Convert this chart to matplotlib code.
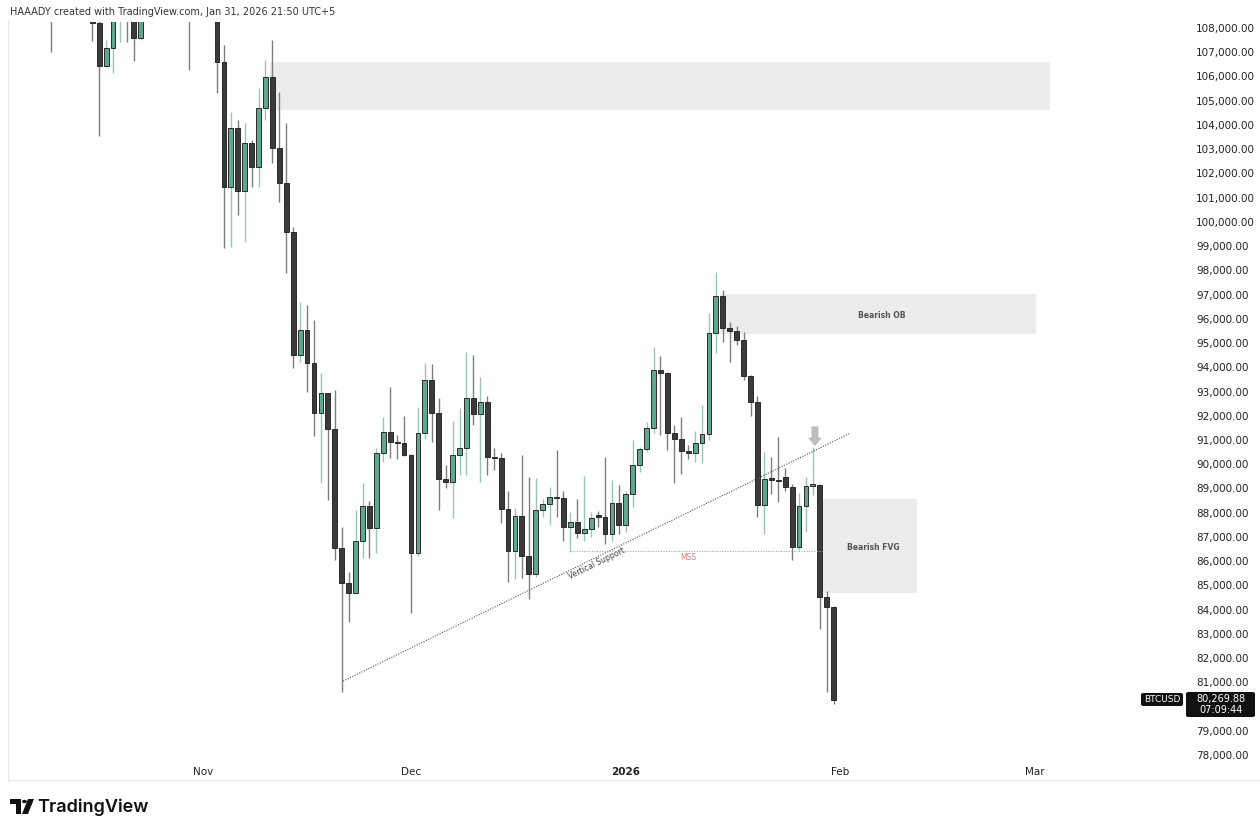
import numpy as np
import pandas as pd
import matplotlib
matplotlib.use('Agg')
import matplotlib.pyplot as plt
import matplotlib.dates as mdates
from matplotlib.patches import Rectangle, FancyBboxPatch, Polygon, Circle

# ДАННЫЕ (дневные свечи BTCUSD)
dates = ['2025-10-10'] + list(pd.date_range('2025-10-16', '2026-01-31').strftime('%Y-%m-%d'))
opens = [112500,
         111100, 108200, 106430, 107190, 108600, 110500, 108400, 107575, 110100, 111000,
         111600, 114500, 114100, 112900, 110000, 108300, 109600, 110100,
         110500, 106580, 101450, 103890, 101290, 103270, 102280, 104690, 105990, 103030,
         101620, 99590, 94500, 95540, 94190, 92120, 92920, 91470, 86530, 85080,
         84700, 86830, 88280, 87350, 90480, 91330, 90930, 90870,
         90380, 86330, 91300, 93470, 92100, 89380, 89280, 90400, 90680, 92720,
         92070, 92550, 90310, 90260, 88170, 86430, 87860, 86210, 85450, 88110,
         88350, 88660, 88590, 87420, 87600, 87180, 87310, 87900, 87830, 87120, 88410,
         87510, 88760, 89960, 90610, 91500, 93890, 93750, 91270, 91030, 90560,
         90450, 90890, 91230, 95400, 96940, 95610, 95500, 95120, 93640, 92580,
         88310, 89440, 89350, 89490, 89070, 86600, 88270, 89100, 89140, 84530, 84120]
highs = [113500,
         111700, 109000, 107500, 109400, 111700, 114000, 109100, 111300, 111900, 111800,
         115400, 116400, 116100, 113600, 111600, 111200, 110600, 111200,
         110800, 107300, 104540, 104200, 104070, 103380, 105510, 106680, 107500, 105370,
         104070, 99800, 96700, 96570, 95950, 93750, 92950, 93060, 87390, 85570,
         88110, 89240, 88500, 90670, 91950, 93190, 91200, 91990,
         90420, 92370, 94190, 94140, 92720, 89960, 91780, 92300, 94640, 94500,
         93610, 92810, 90650, 90470, 88900, 88200, 90380, 89490, 89420, 88550,
         89070, 90590, 88900, 88040, 88550, 89510, 88040, 88050, 90310, 89350, 89140,
         88900, 91000, 90700, 91750, 94840, 94460, 93800, 91620, 91930, 90780,
         91390, 92440, 96250, 97940, 97190, 95880, 95700, 95470, 93700, 92800,
         90520, 90310, 91130, 89860, 89200, 88800, 89490, 90710, 89200, 84750, 84150]
lows = [107000,
        107480, 103540, 106400, 106140, 107430, 107430, 106640, 107500, 109700, 110600,
        111300, 113900, 112200, 109800, 106270, 108600, 109400, 109500,
        105300, 98920, 98970, 100280, 99180, 101450, 101450, 104200, 102420, 100830,
        97870, 93950, 94230, 92990, 91160, 89210, 88520, 86040, 80610, 83500,
        84650, 86120, 86110, 86320, 90100, 90240, 90200, 90330,
        83840, 86200, 91060, 90930, 88110, 89000, 87760, 89550, 89550, 91620,
        89280, 89550, 89780, 87580, 85150, 85250, 85290, 84420, 85340, 87830,
        87480, 87830, 86820, 86390, 86940, 86850, 87000, 87400, 86700, 86840, 87120,
        87200, 88250, 89690, 90500, 91300, 91200, 90590, 89210, 89590, 90230,
        90100, 90030, 91000, 94570, 95050, 94230, 94900, 93470, 91990, 87830,
        87140, 88790, 88450, 88900, 86040, 86460, 87210, 88730, 83220, 80610, 80100]
closes = [112000,
          108200, 106430, 107190, 108600, 110500, 108400, 107575, 110100, 111000, 111600,
          114500, 114100, 112900, 110000, 108300, 109600, 110100, 110500,
          106580, 101450, 103890, 101290, 103270, 102280, 104690, 105990, 103030, 101620,
          99590, 94500, 95540, 94190, 92120, 92920, 91470, 86530, 85080, 84700,
          86830, 88280, 87350, 90480, 91330, 90930, 90870, 90380,
          86330, 91300, 93470, 92100, 89380, 89280, 90400, 90680, 92720, 92070,
          92550, 90310, 90260, 88170, 86430, 87860, 86210, 85450, 88110, 88350,
          88660, 88590, 87420, 87600, 87180, 87310, 87800, 87830, 87120, 88410, 87510,
          88760, 89960, 90610, 91500, 93890, 93750, 91270, 91030, 90560, 90450,
          90890, 91230, 95400, 96940, 95610, 95500, 95120, 93640, 92580, 88310,
          89380, 89350, 89300, 89070, 86600, 88270, 89100, 89180, 84530, 84120, 80270]

price_ticks = list(range(78000, 108001, 1000))
hidden_tick = 80000          # закрыт плашкой текущей цены
month_ticks = ['2025-11-01', '2025-12-01', '2026-01-01', '2026-02-01', '2026-03-01']
month_labels = ['Nov', 'Dec', '2026', 'Feb', 'Mar']
last_price = 80269.88
countdown = '07:09:44'

# зоны и разметка (дата начала, дата конца, низ, верх)
zone_top = ('2025-11-10 16:00', '2026-03-03 05:00', 104616, 106597)
zone_ob = ('2026-01-14 14:00', '2026-03-01 05:00', 95370, 97020)
zone_fvg = ('2026-01-29 07:00', '2026-02-12 00:00', 84680, 88560)
trend = (('2025-11-21 05:00', 81050), ('2026-02-02 10:00', 91285))
mss = (('2025-12-24 03:00', '2026-01-29 07:00'), 86415)

W, H = 1260, 832
fig = plt.figure(figsize=(W / 100, H / 100), dpi=100, facecolor='white')
ax = fig.add_axes([10 / W, (H - 760) / H, 1175 / W, 738 / H])

x = mdates.date2num(pd.to_datetime(dates))
o = np.array(opens, float)
c = np.array(closes, float)
hi = np.array(highs, float)
lo = np.array(lows, float)
up = c >= o

GREEN = '#5ea892'
DARK = '#3b3b3b'
EDGE = '#2a2a2a'

# свечи: фитили и тела
ax.vlines(x[up], lo[up], hi[up], color='#9cc4b4', linewidth=1.0, zorder=2)
ax.vlines(x[~up], lo[~up], hi[~up], color='#7d7d7d', linewidth=1.0, zorder=2)
body_h = np.maximum(np.abs(c - o), 45)
body_b = np.minimum(o, c)
ax.bar(x[up], body_h[up], bottom=body_b[up], width=0.7, color=GREEN,
       edgecolor=EDGE, linewidth=0.7, zorder=3)
ax.bar(x[~up], body_h[~up], bottom=body_b[~up], width=0.7, color=DARK,
       edgecolor=EDGE, linewidth=0.7, zorder=3)


def dn(s):
    return mdates.date2num(pd.Timestamp(s))


# серые зоны
for z in (zone_top, zone_ob, zone_fvg):
    ax.add_patch(Rectangle((dn(z[0]), z[2]), dn(z[1]) - dn(z[0]), z[3] - z[2],
                           facecolor='#ececec', edgecolor='none', zorder=1))
ax.text(dn('2026-02-07'), 96150, 'Bearish OB', fontsize=5.5, fontweight='bold',
        color='#555555', ha='center', va='center', zorder=4)
ax.text(dn('2026-02-05 16:00'), 86580, 'Bearish FVG', fontsize=5.5, fontweight='bold',
        color='#555555', ha='center', va='center', zorder=4)

# трендовая линия
ax.plot([dn(trend[0][0]), dn(trend[1][0])], [trend[0][1], trend[1][1]],
        color='#555555', linewidth=0.8, linestyle=(0, (1, 1.3)), zorder=4)
ax.text(dn('2025-12-27 20:00'), 85900, 'Vertical Support', fontsize=5.5,
        color='#444444', rotation=26, ha='center', va='center',
        rotation_mode='anchor', zorder=4)

# MSS
ax.plot([dn(mss[0][0]), dn(mss[0][1])], [mss[1], mss[1]],
        color='#b8a0a0', linewidth=0.8, linestyle=(0, (1, 1.3)), zorder=4)
ax.text(dn('2026-01-10'), 86130, 'MSS', fontsize=5.5, color='#e07b7b',
        ha='center', va='center', zorder=4)

# стрелка
ax.annotate('', xy=(dn('2026-01-28 07:00'), 90750), xytext=(dn('2026-01-28 07:00'), 91560),
            arrowprops=dict(arrowstyle='simple,head_length=0.6,head_width=1.0,tail_width=0.5',
                            fc='#bdbdbd', ec='none', shrinkA=0, shrinkB=0),
            annotation_clip=False, zorder=5)

ax.set_xlim(dn('2025-10-04 03:00'), dn('2026-03-22 17:00'))
ax.set_ylim(77794, 108248)

ax.yaxis.tick_right()
ax.set_yticks(price_ticks)
ax.set_yticklabels(['' if p == hidden_tick else f'{p:,.2f}' for p in price_ticks])
ax.tick_params(axis='y', length=0, pad=8, labelsize=7.5, labelcolor='#222222')
ax.set_xticks([dn(d) for d in month_ticks])
ax.set_xticklabels(month_labels)
ax.tick_params(axis='x', length=0, pad=5, labelsize=7.5, labelcolor='#222222')
ax.get_xticklabels()[2].set_fontweight('bold')
for s in ax.spines.values():
    s.set_visible(False)
ax.set_facecolor('white')


def fx(px):
    return px / W


def fy(py):
    return 1 - py / H


# рамка графика
fig.add_artist(plt.Line2D([fx(8), fx(8)], [fy(20), fy(780)], color='#e6e6e6', lw=0.8))
fig.add_artist(plt.Line2D([fx(8), fx(1260)], [fy(780), fy(780)], color='#e6e6e6', lw=0.8))

# метки текущей цены
fig.add_artist(FancyBboxPatch((fx(1141), fy(706)), fx(42), 13 / H,
                              boxstyle='round,pad=0,rounding_size=0.002',
                              fc='#111111', ec='none'))
fig.text(fx(1162), fy(699.5), 'BTCUSD', fontsize=6.5, color='white', ha='center', va='center')
fig.add_artist(FancyBboxPatch((fx(1186), fy(717)), fx(69), 25 / H,
                              boxstyle='round,pad=0,rounding_size=0.002',
                              fc='#111111', ec='none'))
fig.text(fx(1221), fy(704.5), f'{last_price:,.2f}\n{countdown}', fontsize=7, color='white',
         ha='center', va='center', linespacing=1.1)

# заголовок
fig.text(fx(10), fy(12), 'HAAADY created with TradingView.com, Jan 31, 2026 21:50 UTC+5',
         fontsize=7, color='#333333', ha='left', va='center')

# логотип TradingView
fig.add_artist(Polygon([(fx(10), fy(799)), (fx(21), fy(799)), (fx(21), fy(814)),
                        (fx(16), fy(814)), (fx(16), fy(804)), (fx(10), fy(804))],
                       closed=True, fc='#111111', ec='none'))
fig.add_artist(Circle((fx(24.5), fy(801.5)), 2.5 / W, fc='#111111', ec='none',
                      transform=fig.transFigure))
fig.add_artist(Polygon([(fx(28), fy(799)), (fx(34), fy(799)), (fx(28), fy(814)),
                        (fx(22), fy(814))], closed=True, fc='#111111', ec='none'))
fig.text(fx(37), fy(807), 'TradingView', fontsize=13, fontweight='semibold',
         family=['Inter', 'DejaVu Sans'], color='#111111', ha='left', va='center')

fig.savefig('out.png', dpi=100, facecolor='white')
